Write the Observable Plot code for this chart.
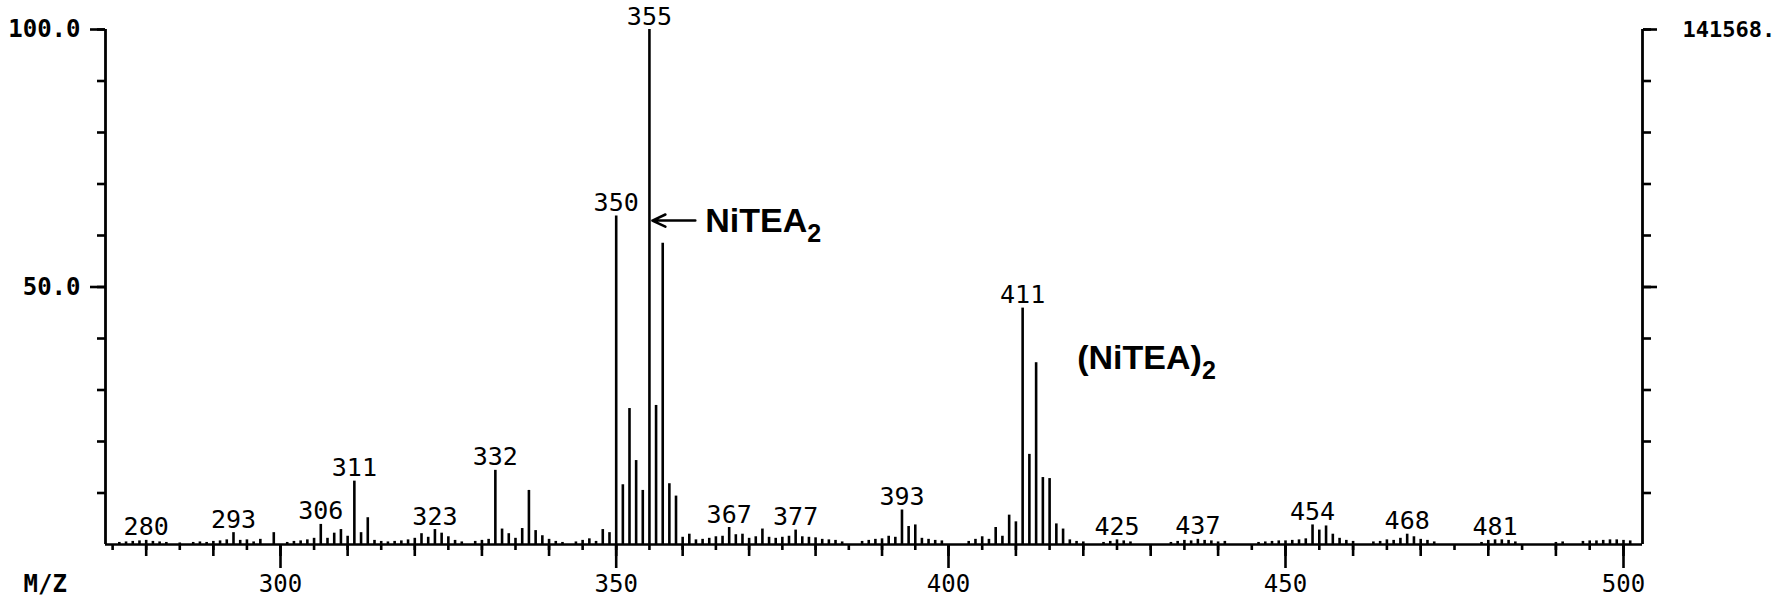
<!DOCTYPE html>
<html><head><meta charset="utf-8">
<script src="https://cdn.jsdelivr.net/npm/d3@7"></script>
<script src="https://cdn.jsdelivr.net/npm/@observablehq/plot@0.6"></script>
<style>
html,body{margin:0;padding:0;background:#fff;}
</style>
</head><body><div id="chart"></div>
<script>
// m/z values and relative intensities (%)
const mz = [276,277,278,279,280,281,282,283,285,287,288,289,290,291,292,293,294,295,296,297,299,
  301,302,303,304,305,306,307,308,309,310,311,312,313,314,315,316,317,318,319,320,321,322,323,324,325,326,327,329,
  330,331,332,333,334,335,336,337,338,339,340,341,342,344,345,346,347,348,349,
  350,351,352,353,354,355,356,357,358,359,360,361,362,363,364,365,366,367,368,369,
  370,371,372,373,374,375,376,377,378,379,380,381,382,383,384,387,388,389,
  390,391,392,393,394,395,396,397,398,399,403,404,405,406,407,408,409,
  410,411,412,413,414,415,416,417,418,419,420,423,424,425,426,427,
  433,434,435,436,437,438,439,440,441,446,447,448,449,
  450,451,452,453,454,455,456,457,458,459,460,463,464,465,466,467,468,469,
  470,471,472,479,480,481,482,483,484,490,491,494,495,496,497,498,499,500,501];
const intensity = [0.4,0.5,0.6,0.7,0.8,0.6,0.5,0.4,0.3,0.4,0.5,0.4,0.6,0.7,0.9,2.3,0.8,0.9,0.5,1.0,2.3,
  0.4,0.6,0.7,0.9,1.2,3.9,1.2,2.2,2.9,1.6,12.3,2.3,5.2,0.8,0.6,0.5,0.6,0.7,0.9,1.2,2.1,1.4,2.9,2.2,1.5,0.8,0.5,0.6,
  0.8,1.0,14.4,3.0,2.1,1.2,3.1,10.5,2.7,1.7,1.0,0.6,0.4,0.5,0.8,1.1,0.6,2.9,2.3,
  63.8,11.6,26.4,16.3,10.5,100,27.0,58.5,11.8,9.4,1.4,2.0,0.9,1.0,1.2,1.5,1.6,3.3,1.9,2.0,
  1.2,1.5,3.0,1.4,1.2,1.4,1.6,2.8,1.5,1.4,1.3,1.0,0.9,0.8,0.5,0.6,0.8,1.0,
  1.1,1.6,1.4,6.7,3.5,3.8,1.2,1.0,0.8,0.7,0.6,1.0,1.5,1.0,3.3,1.6,5.7,
  4.4,45.9,17.5,35.3,13.0,12.8,4.0,3.0,0.9,0.6,0.5,0.4,0.6,0.9,0.7,0.5,
  0.4,0.6,0.8,0.7,1.0,0.8,0.7,0.5,0.6,0.4,0.5,0.6,0.7,
  0.7,0.8,0.9,1.1,3.8,2.8,3.6,2.0,1.2,0.8,0.6,0.5,0.6,0.9,0.8,1.2,2.0,1.5,
  1.0,0.8,0.5,0.4,0.8,0.9,0.9,0.8,0.5,0.4,0.5,0.6,0.7,0.7,0.8,0.9,0.9,0.8,0.7];
const labeledPeaks = [280,293,306,311,323,332,350,355,367,377,393,411,425,437,454,468,481];
// the recorder's m/z axis is slightly non-linear: piecewise scale through the labelled ticks
const xDomain = [273.94, 300, 350, 400, 450, 500, 502.83];
const xRange = [105, 280, 615.7, 948, 1285, 1623, 1642];
const xTicksLabeled = [300,350,400,450,500];
const yTicksLabeled = [50,100];
const rightScaleLabel = ["141568."];
const axisTitle = ["M/Z"];
// annotations: text, position (m/z, %)
const annoText = ["NiTEA_2", "(NiTEA)_2"];
const annoMz = [363.4, 419.1];
const annoInt = [62.7, 36.1];
const arrowFrom = [361.9, 62.9];
const arrowTo = [355.45, 62.9];

const peaks = mz.map((m, i) => ({mz: m, int: intensity[i]}));
const labeled = peaks.filter(p => labeledPeaks.includes(p.mz));
const annos = annoText.map((t, i) => ({text: t, mz: annoMz[i], int: annoInt[i]}));
const xEnds = [xDomain[0], xDomain[xDomain.length - 1]];

const mono = "DejaVu Sans Mono";
const sw = 2.6;

const chart = Plot.plot({
  width: 1784, height: 600,
  marginLeft: 105, marginRight: 142, marginTop: 29, marginBottom: 56,
  x: {type: "linear", domain: xDomain, range: xRange},
  y: {domain: [0, 100]},
  style: {fontFamily: mono, fontSize: "24px", color: "#000", background: "#fff", overflow: "visible"},
  marks: [
    Plot.ruleY([0], {stroke: "#000", strokeWidth: sw}),
    Plot.ruleX(xEnds, {y1: 0, y2: 100, stroke: "#000", strokeWidth: 2.8}),
    Plot.ruleX(peaks, {x: "mz", y1: 0, y2: "int", stroke: "#000", strokeWidth: sw}),
    Plot.axisX(d3.range(275, 501, 5), {tickSize: 6, tickFormat: () => "", strokeWidth: sw, label: null}),
    Plot.axisX(d3.range(280, 501, 10), {tickSize: 12, tickFormat: () => "", strokeWidth: sw, label: null}),
    Plot.axisX(xTicksLabeled, {tickSize: 24, tickPadding: 6, strokeWidth: sw, label: null, fontSize: 24, tickFormat: d => String(d)}),
    Plot.axisY(d3.range(10, 101, 10), {anchor: "left", tickSize: 8, tickFormat: () => "", strokeWidth: sw, label: null}),
    Plot.axisY(yTicksLabeled, {anchor: "left", tickSize: 15, tickPadding: 10, strokeWidth: sw, label: null, fontSize: 24, fontWeight: "bold", tickFormat: d => d.toFixed(1)}),
    Plot.axisY(d3.range(10, 101, 10), {anchor: "right", tickSize: 8, tickFormat: () => "", strokeWidth: sw, label: null}),
    Plot.axisY(yTicksLabeled, {anchor: "right", tickSize: 14, tickFormat: () => "", strokeWidth: sw, label: null}),
    Plot.text(rightScaleLabel, {frameAnchor: "top-right", dx: 40, textAnchor: "start", lineAnchor: "middle", fontSize: 22, fontWeight: "bold"}),
    Plot.text(axisTitle, {frameAnchor: "bottom-left", dx: -82, dy: 40, textAnchor: "start", lineAnchor: "middle", fontSize: 24, fontWeight: "bold"}),
    Plot.text(labeled, {x: "mz", y: "int", text: d => String(d.mz), lineAnchor: "middle", dy: -13, fontSize: 25, fontFamily: mono}),
    Plot.text(annos, {x: "mz", y: "int", text: "text", textAnchor: "start", lineAnchor: "middle", fontSize: 34, fontWeight: "bold", fontFamily: "Liberation Sans"}),
    Plot.arrow([0], {x1: () => arrowFrom[0], y1: () => arrowFrom[1], x2: () => arrowTo[0], y2: () => arrowTo[1], stroke: "#000", strokeWidth: 2.6, headLength: 14, headAngle: 50})
  ]
});

// subscripts: "A_2" -> A with lowered smaller 2
const ns = "http://www.w3.org/2000/svg";
chart.querySelectorAll("text").forEach(t => {
  if (t.children.length === 0 && t.textContent.includes("_")) {
    const [a, b] = t.textContent.split("_");
    t.textContent = "";
    const t1 = document.createElementNS(ns, "tspan"); t1.textContent = a;
    const t2 = document.createElementNS(ns, "tspan"); t2.textContent = b;
    t2.setAttribute("dy", "0.4em"); t2.setAttribute("font-size", "25");
    t.append(t1, t2);
  }
});
document.getElementById("chart").append(chart);
</script>
</body></html>
